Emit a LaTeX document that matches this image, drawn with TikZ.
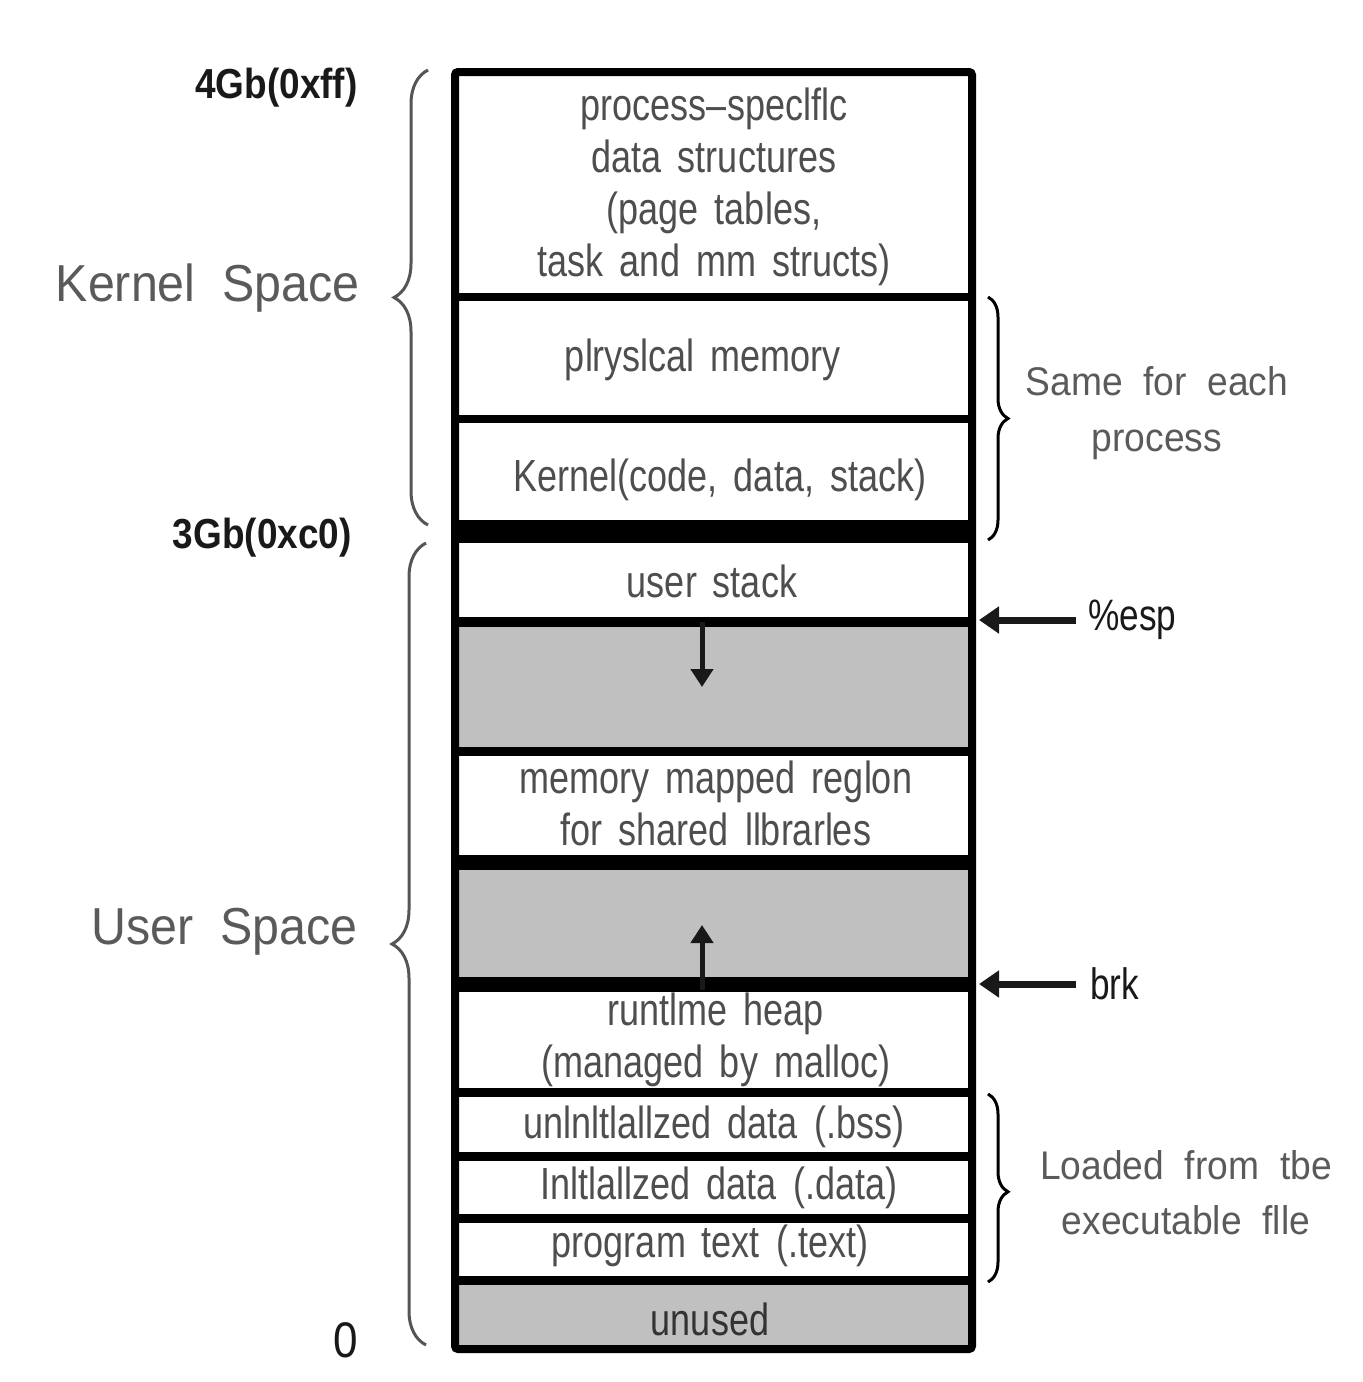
\documentclass[tikz,border=0pt]{standalone}
\usepackage{fontspec}
\setmainfont{Liberation Sans}
\newfontfamily\boxfont[FakeStretch=0.80,WordSpace=1.6]{Liberation Sans}
\newfontfamily\sidefont[FakeStretch=0.93,WordSpace=2.0]{Liberation Sans}
\newfontfamily\addrfont[FakeStretch=0.88]{Liberation Sans}
\usetikzlibrary{arrows.meta,decorations.pathreplacing}
\definecolor{segfill}{RGB}{192,192,192}
\definecolor{boxtext}{RGB}{78,78,78}
\definecolor{sidetext}{RGB}{90,90,90}
\definecolor{bracegray}{RGB}{85,85,85}
\tikzset{
  seglabel/.style={inner sep=0pt,align=center,text=boxtext,font=\boxfont\fontsize{22.5}{26}\selectfont},
  sidelabel/.style={inner sep=0pt,align=center,text=sidetext,font=\sidefont\fontsize{20}{28}\selectfont},
  spacelabel/.style={inner sep=0pt,anchor=east,text=sidetext,font=\sidefont\fontsize{26}{30}\selectfont},
  addrlabel/.style={inner sep=0pt,anchor=east,text=black!90,font=\addrfont\bfseries\fontsize{21}{24}\selectfont},
  ptrlabel/.style={inner sep=0pt,anchor=west,text=black!90,font=\boxfont\fontsize{22}{26}\selectfont},
  divider/.style={draw=black,line cap=butt},
  ptrarrow/.style={draw=black!90,line width=3.5pt,-{Triangle[length=10pt,width=13pt]}},
  growarrow/.style={draw=black!90,line width=2.5pt,-{Triangle[length=9pt,width=11pt]}},
  leftbrace/.style={draw=bracegray,line width=1.5pt,decorate,decoration={brace,amplitude=17pt,aspect=0.5}},
  rightbrace/.style={draw=black,line width=1.5pt,decorate,decoration={brace,amplitude=10pt,aspect=0.5}}
}
\begin{document}
\begin{tikzpicture}[x=0.5pt,y=-0.5pt]
\useasboundingbox (0,0) rectangle (1362,1382);
% background of box
\fill[white] (455,72) rectangle (972,1349);
\fill[segfill] (455,622) rectangle (972,751);
\fill[segfill] (455,862) rectangle (972,984);
\fill[segfill] (455,1280) rectangle (972,1349);
% dividers
\draw[divider,line width=4pt] (455,297) -- (972,297);
\draw[divider,line width=4pt] (455,419) -- (972,419);
\draw[divider,line width=11.5pt] (455,531) -- (972,531);
\draw[divider,line width=5pt] (455,622) -- (972,622);
\draw[divider,line width=4.5pt] (455,751) -- (972,751);
\draw[divider,line width=7.5pt] (455,862) -- (972,862);
\draw[divider,line width=7.5pt] (455,984) -- (972,984);
\draw[divider,line width=4.5pt] (455,1092) -- (972,1092);
\draw[divider,line width=4.5pt] (455,1156) -- (972,1156);
\draw[divider,line width=4.5pt] (455,1218) -- (972,1218);
\draw[divider,line width=4.5pt] (455,1280) -- (972,1280);
% outer frame
\draw[line width=4pt,rounded corners=1.5pt] (455,72) rectangle (972,1349);

% segment labels
\node[seglabel] (pss) at (714,187) {process–speclflc\\data structures\\(page tables,\\task and mm structs)};
\node[seglabel] (phys) at (703,360) {plryslcal memory};
\node[seglabel] (kern) at (720,480) {Kernel(code, data, stack)};
\node[seglabel] (ustack) at (712,581) {user stack};
\node[seglabel] (mmap) at (716,803) {memory mapped reglon\\for shared llbrarles};
\node[seglabel] (heap) at (716,1040) {runtlme heap\\(managed by malloc)};
\node[seglabel] (bss) at (714,1127) {unlnltlallzed data (.bss)};
\node[seglabel] (data) at (719,1188) {Inltlallzed data (.data)};
\node[seglabel] (text) at (710,1246) {program text (.text)};
\node[seglabel,text=black!80] (unused) at (710,1319) {unused};

% growth arrows
\coordinate (stacktop) at (702,622);
\coordinate (stackdown) at (702,687);
\draw[growarrow] (stacktop) -- (stackdown);
\coordinate (heaptop) at (702,990);
\coordinate (heapup) at (702,925);
\draw[growarrow] (heaptop) -- (heapup);

% pointer labels and arrows
\node[ptrlabel] (esp) at (1088,620) {\%esp};
\node[ptrlabel] (brk) at (1090,984) {brk};
\coordinate (espend) at (979,620);
\coordinate (brkend) at (979,984);
\draw[ptrarrow] ([xshift=-6pt]esp.west) -- (espend);
\draw[ptrarrow] ([xshift=-7pt]brk.west) -- (brkend);

% left labels
\node[addrlabel] (top) at (358,88) {4Gb(0xff)};
\node[addrlabel] (mid) at (352,538) {3Gb(0xc0)};
\node[addrlabel,font=\addrfont\fontsize{25}{28}\selectfont] (zero) at (358,1340) {0};
\node[spacelabel] (kspace) at (360,288) {Kernel Space};
\node[spacelabel] (uspace) at (358,932) {User Space};

% left braces
\coordinate (kb1) at (428,525);
\coordinate (kb2) at (428,70);
\draw[leftbrace] (kb1) -- (kb2);
\coordinate (ub1) at (426,1345);
\coordinate (ub2) at (426,543);
\draw[leftbrace] (ub1) -- (ub2);

% right braces
\coordinate (sb1) at (988,297);
\coordinate (sb2) at (988,540);
\draw[rightbrace] (sb1) -- (sb2);
\coordinate (lb1) at (988,1094);
\coordinate (lb2) at (988,1282);
\draw[rightbrace,decoration={brace,amplitude=10pt,aspect=0.52}] (lb1) -- (lb2);

% right labels
\node[sidelabel] (same) at (1157,413) {Same for each\\process};
\node[sidelabel,font=\sidefont\fontsize{20}{27.5}\selectfont] (loaded) at (1186,1193) {Loaded from tbe\\executable flle};
\end{tikzpicture}
\end{document}
